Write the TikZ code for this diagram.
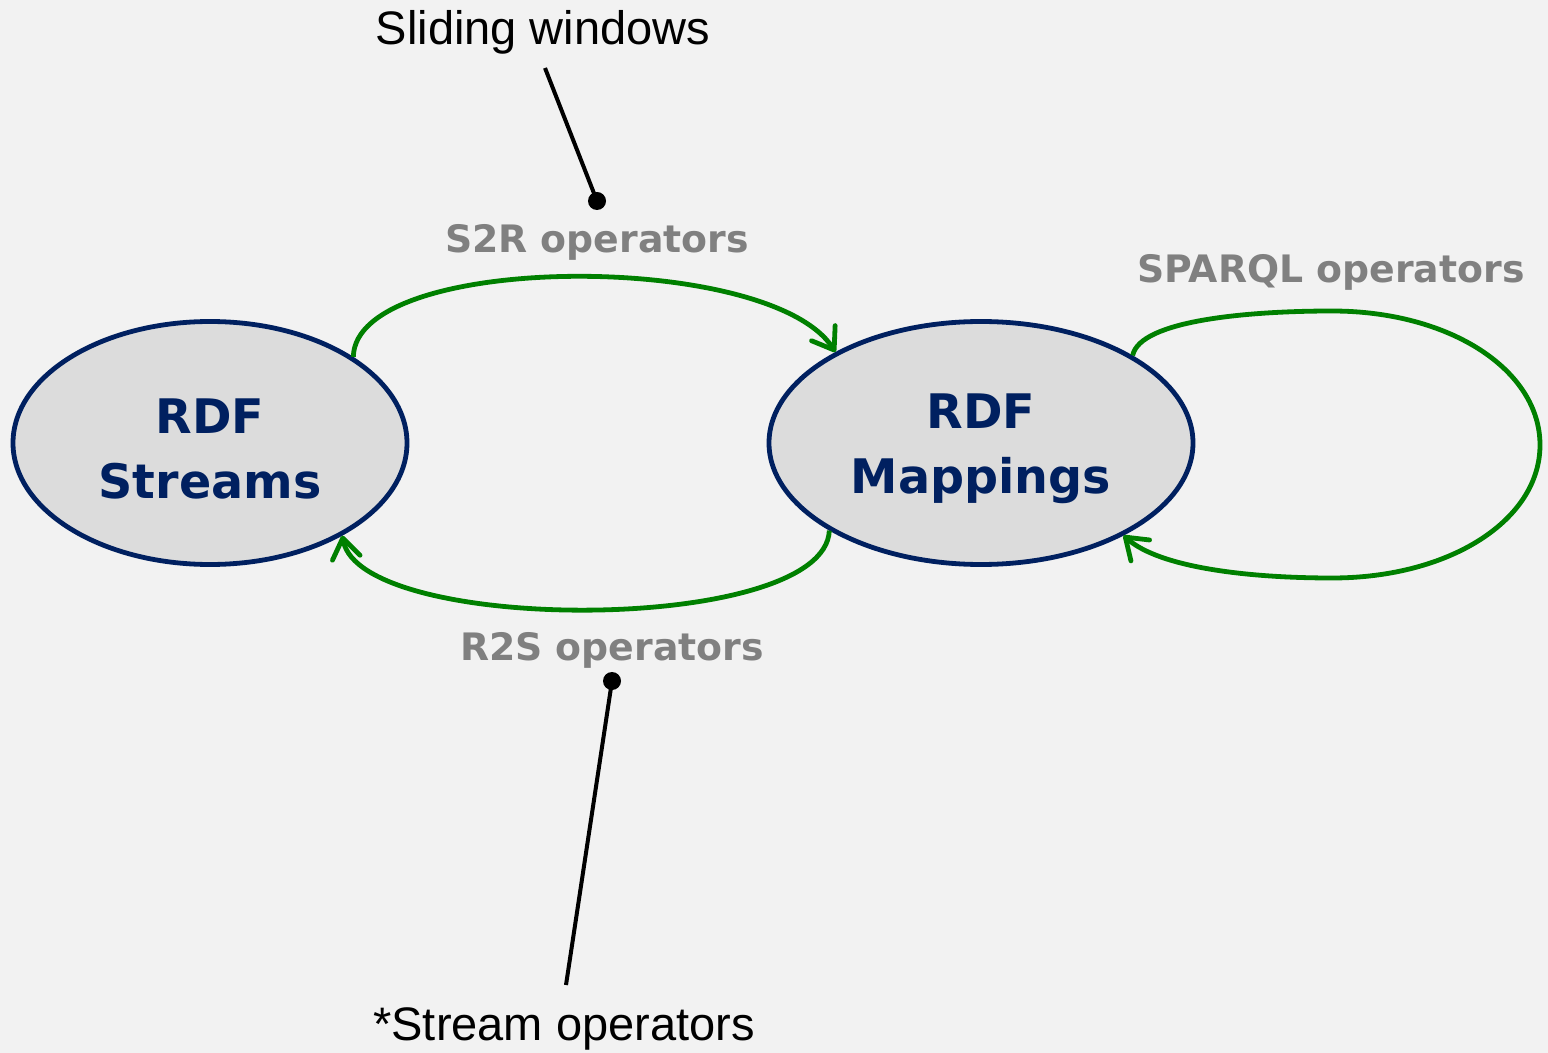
\documentclass[tikz,border=0pt]{standalone}
\usepackage{fontspec}
\setmainfont{Liberation Sans}
\newfontfamily\vfont{DejaVu Sans}
\usetikzlibrary{shapes.geometric,arrows.meta}
\definecolor{bgc}{HTML}{F2F2F2}
\definecolor{ellfill}{HTML}{DCDCDC}
\definecolor{navy}{HTML}{002060}
\definecolor{grn}{HTML}{008000}
\definecolor{lblgray}{HTML}{808080}
\tikzset{
  ellnode/.style={ellipse, draw=navy, fill=ellfill, line width=2.4pt, inner sep=0pt,
    align=center, text=navy, text height=56pt,
    font=\vfont\bfseries\fontsize{23.8}{32.5}\selectfont},
  oparrow/.style={draw=grn, line width=2.4pt,
    -{Straight Barb[length=10pt,width=14pt,line width=2.4pt,round]}},
  oplabel/.style={text=lblgray, font=\vfont\bfseries\fontsize{18.9}{22}\selectfont, inner sep=0pt},
  notelabel/.style={text=black, font=\fontsize{23.5}{28}\selectfont, inner sep=0pt},
  pointer/.style={draw=black, line width=2pt},
  pdot/.style={fill=black}
}
\begin{document}
\begin{tikzpicture}[x=0.5pt,y=-0.5pt]
\fill[bgc] (0,0) rectangle (1548,1053);
\useasboundingbox (0,0) rectangle (1548,1053);

\node[ellnode, minimum width=197pt, minimum height=121.5pt] (L) at (210,443) {RDF\\Streams};
\node[ellnode, minimum width=212pt, minimum height=121.5pt] (R) at (981,443) {RDF\\Mappings};

% S2R
\draw[oparrow] (L.31.6) .. controls (355,252) and (770,250) .. (R.148);
% R2S
\draw[oparrow] (R.210.4) .. controls (825,635) and (360,635) .. (L.325);
% SPARQL loop
\coordinate (top) at (1332,311);
\coordinate (rgt) at (1540,445);
\coordinate (bot) at (1332,578);
\draw[oparrow] (R.30.9) .. controls (1140,320) and (1250,311) .. (top)
  .. controls (1450,311) and (1540,370) .. (rgt)
  .. controls (1540,520) and (1450,578) .. (bot)
  .. controls (1250,578) and (1160,568) .. (R.327);

\node[oplabel] (s2r) at (597,242) {S2R operators};
\node[oplabel] (r2s) at (612,650) {R2S operators};
\node[oplabel] (sparql) at (1331,272) {SPARQL operators};

\node[notelabel] (sw) at (543,32) {Sliding windows};
\node[notelabel] (so) at (564,1029) {*Stream operators};

\coordinate (d1) at (597,201);
\coordinate (d2) at (612,681);
\coordinate (p1) at (545,68);
\coordinate (p2) at (566,985);
\draw[pointer] (p1) -- (d1);
\draw[pointer] (p2) -- (d2);
\fill[pdot] (d1) circle (9);
\fill[pdot] (d2) circle (9);
\end{tikzpicture}
\end{document}
